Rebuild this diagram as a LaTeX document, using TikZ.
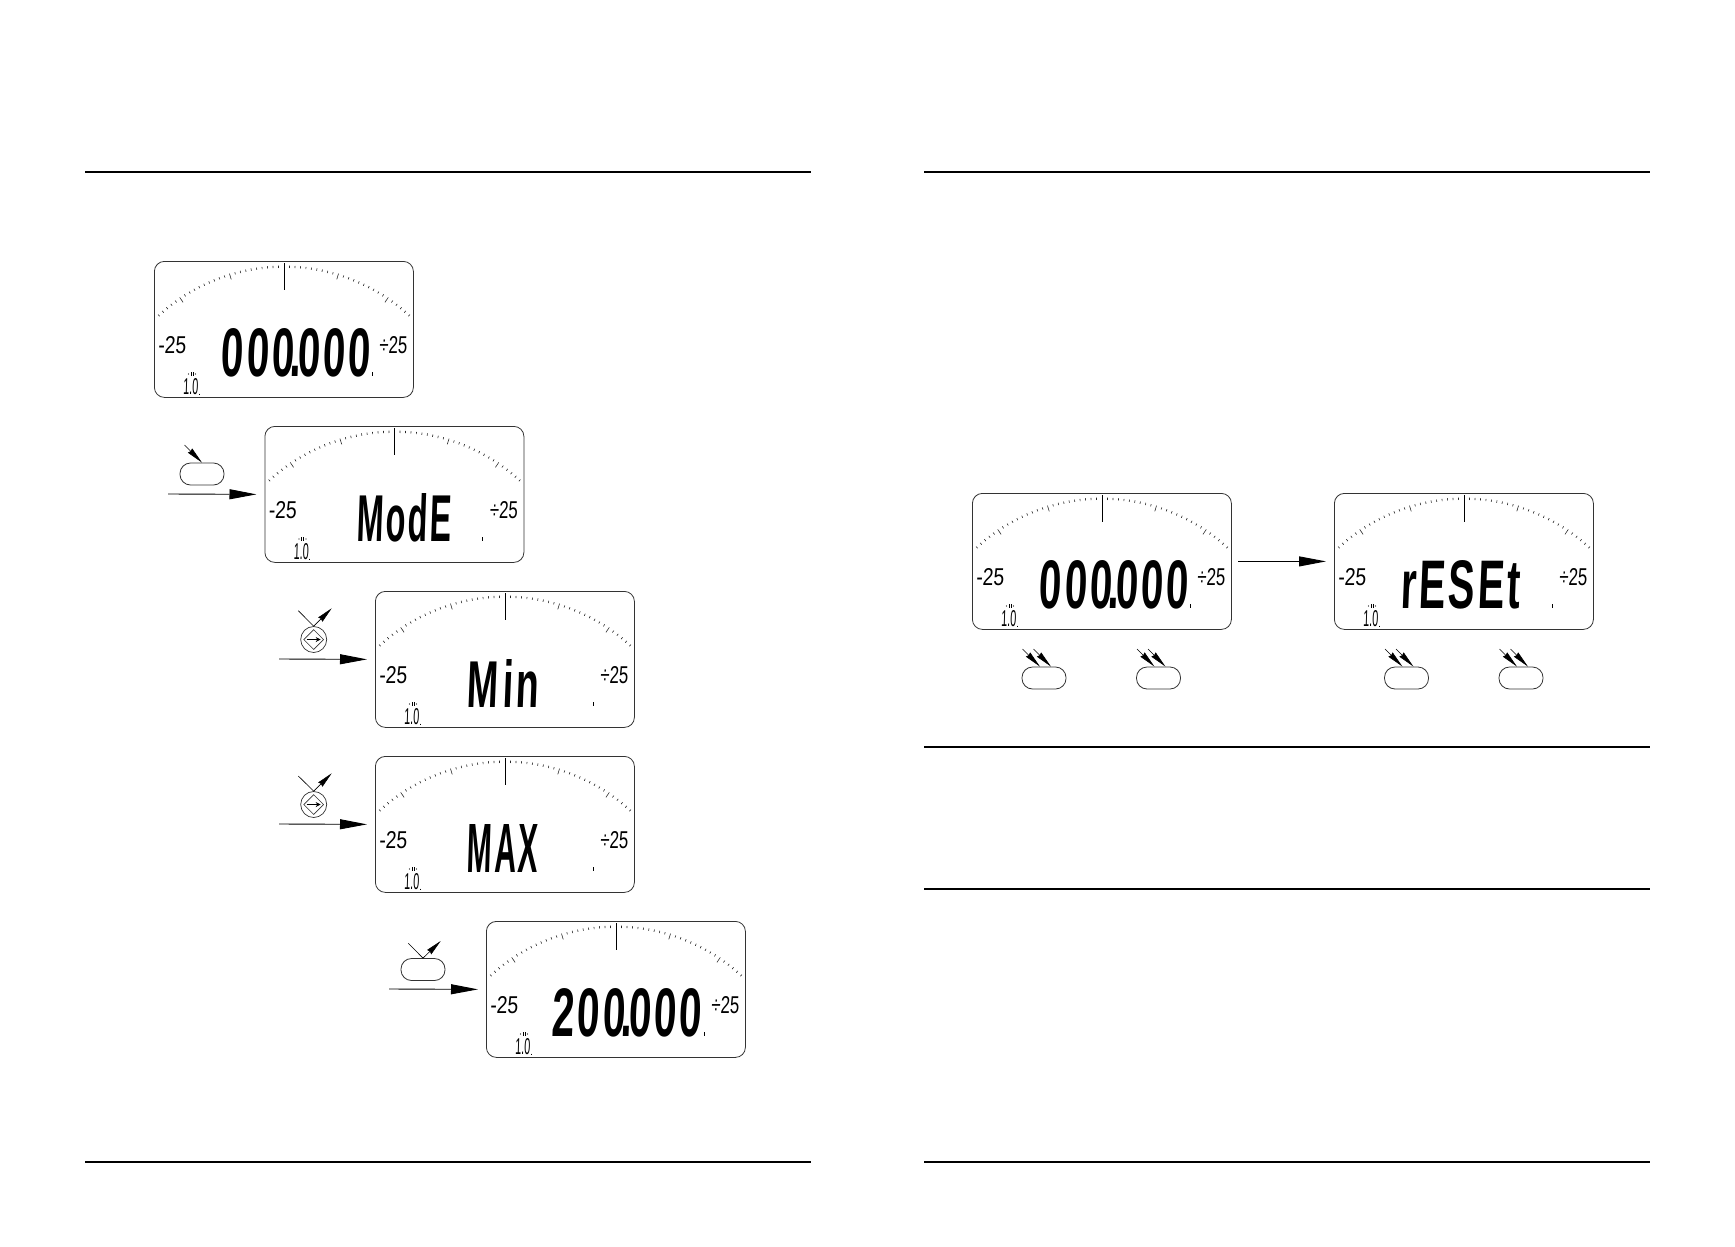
\documentclass[tikz,border=0pt]{standalone}
\usepackage{fontspec}
\usetikzlibrary{arrows.meta,shapes.geometric}
\newfontfamily\lcdthin[FakeSlant=0.07]{Liberation Sans}
\newfontfamily\lcdmain[FakeSlant=0.07,LetterSpace=7]{Liberation Sans Bold}
\newcommand{\lcdword}[3]{\resizebox{#1pt}{#2pt}{#3}}
\newcommand{\lcddot}{\kern-0.1em.\kern-0.1em}
% one display: name, left, top, main text centre x, main text width, main text
\newcommand{\lcdpanel}[6]{
    \node[lcdbox, anchor=north west] (#1) at (#2,#3) {};
    \begin{scope}[shift={(#2,#3)}]
        \foreach \tick in {-25,...,25}{
            \pgfmathtruncatemacro{\major}{mod(abs(\tick),10)==0 ? 1 : 0}
            \ifnum\major=1
                \draw[scaletick] (130,191) ++({90-1.7*\tick}:-186.5) -- ++({90-1.7*\tick}:6);
            \else
                \draw[scaletick] (130,191) ++({90-1.7*\tick}:-186.5) -- ++({90-1.7*\tick}:2.4);
            \fi
        }
        \draw[needle] (130,2) -- (130,29);
        \node[lcdtext] (#1-low) at (18,84.5) {\lcdword{28}{17}{\lcdthin -25}};
        \node[lcdtext] (#1-high) at (239,84.5) {\lcdword{28}{17}{\lcdthin ÷25}};
        \node[lcdtext] (#1-main) at (#4,92) {\lcdword{#5}{48}{\lcdmain #6}};
        \node[lcdtext] (#1-step) at (36.5,126) {\lcdword{15}{16}{\lcdthin 1.0}};
        % small marks beside the readout
        \draw[needle] (218,111) -- (218,115);
        \draw[needle] (45,132.5) -- (45,134);
        \draw[needle] (37,111) -- (37,115);
        \draw[needle] (39,111) -- (39,115);
        \fill (34.5,113) circle (0.7);
        \fill (41.5,113) circle (0.7);
    \end{scope}
}
\begin{document}
\begin{tikzpicture}[
        x=1pt, y=-1pt,
        lcdbox/.style={draw=black!80, line width=0.8pt, rounded corners=10pt, minimum width=259pt, minimum height=136pt, inner sep=0pt},
        lcdtext/.style={inner sep=0pt},
        btnpill/.style={draw=black!80, line width=0.8pt, rounded corners=10.5pt, minimum width=44pt, minimum height=22pt, inner sep=0pt},
        btnround/.style={draw=black!80, line width=0.7pt, circle, minimum size=26pt, inner sep=0pt},
        keyglyph/.style={draw=black!80, line width=0.6pt, diamond, aspect=1, minimum size=20pt, inner sep=0pt},
        scaletick/.style={black!85, line width=0.6pt},
        needle/.style={black, line width=0.9pt},
        stepline/.style={-{Triangle[length=27pt, width=10pt]}, line width=0.9pt, shorten >=8pt},
        keypush/.style={-{Stealth[length=17pt, width=6pt, inset=1pt]}, line width=0.6pt},
        keyleave/.style={{Stealth[length=16pt, width=6pt, inset=1pt]}-, line width=0.6pt},
        keyplain/.style={line width=0.6pt},
        pagerule/.style={black, line width=1.1pt}
    ]
    \useasboundingbox (0,0) rectangle (1735,1247);

    % ==========================================
    % PAGE RULES
    % ==========================================
    \coordinate (ruleAl) at (85,172); \coordinate (ruleAr) at (811,172);
    \coordinate (ruleBl) at (85,1162); \coordinate (ruleBr) at (811,1162);
    \coordinate (ruleCl) at (924,172); \coordinate (ruleCr) at (1650,172);
    \coordinate (ruleDl) at (924,747); \coordinate (ruleDr) at (1650,747);
    \coordinate (ruleEl) at (924,889); \coordinate (ruleEr) at (1650,889);
    \coordinate (ruleFl) at (924,1162); \coordinate (ruleFr) at (1650,1162);
    \foreach \rowname in {A,B,C,D,E,F}
        \draw[pagerule] (rule\rowname l) -- (rule\rowname r);

    % ==========================================
    % LEFT PAGE: DISPLAYS
    % ==========================================
    \lcdpanel{lcdA}{154}{261}{141.5}{149}{000\lcddot 000}
    \lcdpanel{lcdB}{264.5}{426}{139.5}{95}{ModE}
    \lcdpanel{lcdC}{375}{591}{127.5}{71}{M\kern0.1em in}
    \lcdpanel{lcdD}{375}{756}{127.5}{71}{MAX}
    \lcdpanel{lcdE}{486}{921}{140.5}{150}{200\lcddot 000}

    % ==========================================
    % LEFT PAGE: KEYS
    % ==========================================
    \node[btnpill] (keyB) at (202,474) {};
    \coordinate (pushB) at (184.5,445);
    \draw[keypush] (pushB) -- (keyB.north);
    \coordinate (inB) at (168,494);
    \draw[stepline] (inB) -- (lcdB.west);

    \node[btnround] (keyC) at (313.7,639.5) {};
    \node[keyglyph] (glyphC) at (keyC) {};
    \coordinate (pushC) at (298.3,610.7); \coordinate (leaveC) at (331.7,608.3);
    \draw[keyplain] (pushC) -- (keyC.north);
    \draw[keyleave] (leaveC) -- (keyC.north);
    \coordinate (glyphCl) at ([xshift=-7pt]keyC.center); \coordinate (glyphCr) at ([xshift=7pt]keyC.center);
    \draw[-{Stealth[length=5pt, width=5pt]}, line width=0.8pt] (glyphCl) -- (glyphCr);
    \coordinate (inC) at (279,659);
    \draw[stepline] (inC) -- (lcdC.west);

    \node[btnround] (keyD) at (313.7,804.5) {};
    \node[keyglyph] (glyphD) at (keyD) {};
    \coordinate (pushD) at (298.3,776); \coordinate (leaveD) at (331.7,773.3);
    \draw[keyplain] (pushD) -- (keyD.north);
    \draw[keyleave] (leaveD) -- (keyD.north);
    \coordinate (glyphDl) at ([xshift=-7pt]keyD.center); \coordinate (glyphDr) at ([xshift=7pt]keyD.center);
    \draw[-{Stealth[length=5pt, width=5pt]}, line width=0.8pt] (glyphDl) -- (glyphDr);
    \coordinate (inD) at (279,824);
    \draw[stepline] (inD) -- (lcdD.west);

    \node[btnpill] (keyE) at (423,969.5) {};
    \coordinate (pushE) at (408.3,943.3); \coordinate (leaveE) at (440.7,941);
    \draw[keyplain] (pushE) -- (keyE.north);
    \draw[keyleave] (leaveE) -- (keyE.north);
    \coordinate (inE) at (389,989);
    \draw[stepline] (inE) -- (lcdE.west);

    % ==========================================
    % RIGHT PAGE: RESET
    % ==========================================
    \lcdpanel{lcdF}{972}{493}{141.5}{149}{000\lcddot 000}
    \lcdpanel{lcdG}{1334}{493}{126}{120}{rESEt}
    \draw[stepline, shorten <=6.5pt] (lcdF.east) -- (lcdG.west);

    \foreach \keyname/\keyx in {keyFa/1044, keyFb/1158.5, keyGa/1406.5, keyGb/1521}{
        \node[btnpill] (\keyname) at (\keyx,678) {};
        \coordinate (\keyname-p) at (\keyx-21.5,649);
        \coordinate (\keyname-q) at (\keyx-10.5,649);
        \draw[keypush] (\keyname-p) -- ([xshift=-4pt]\keyname.north);
        \draw[keypush] (\keyname-q) -- ([xshift=7pt]\keyname.north);
    }
\end{tikzpicture}
\end{document}
